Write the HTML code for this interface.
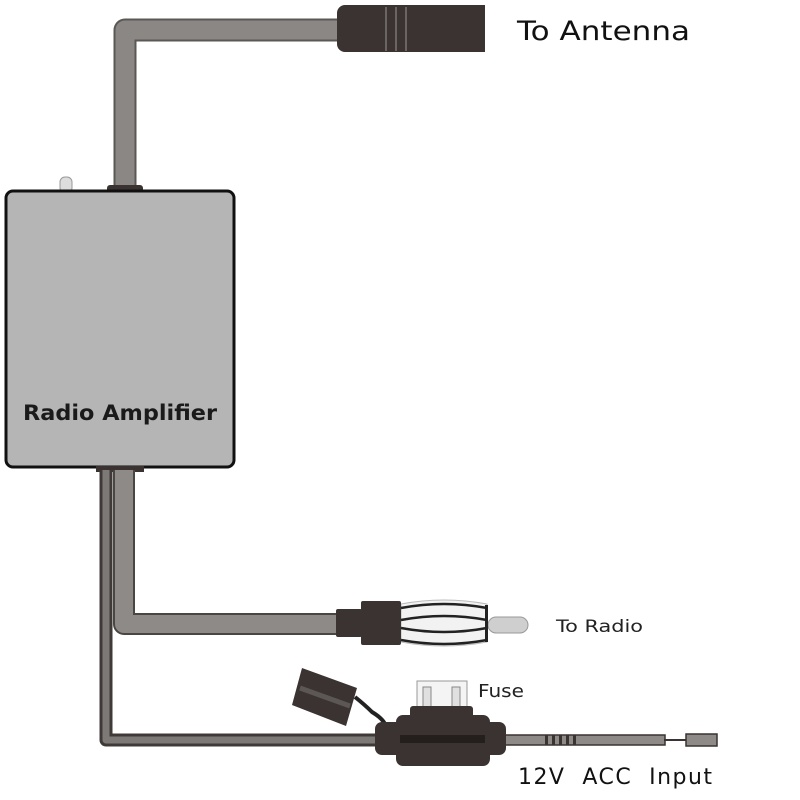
<!DOCTYPE html>
<html><head><style>body{margin:0;background:#fff}svg{display:block}</style></head>
<body>
<svg width="800" height="800" viewBox="0 0 800 800" xmlns="http://www.w3.org/2000/svg" font-family="DejaVu Sans, Liberation Sans, sans-serif">
<!-- top cable -->
<path d="M125 190 V30 H340" fill="none" stroke="#5a5755" stroke-width="23" stroke-linejoin="round"/>
<path d="M125 190 V30 H340" fill="none" stroke="#8a8784" stroke-width="19" stroke-linejoin="round"/>
<!-- antenna connector -->
<rect x="337" y="5" width="148" height="47" rx="8" fill="#3a3331"/>
<rect x="477" y="5" width="8" height="47" fill="#3a3331"/>
<rect x="385" y="7" width="2" height="44" fill="#6a6563"/>
<rect x="395" y="7" width="2" height="44" fill="#6a6563"/>
<rect x="405" y="7" width="2" height="44" fill="#6a6563"/>
<!-- led -->
<rect x="60" y="177" width="12" height="16" rx="5" fill="#ddd" stroke="#999"/>
<rect x="107" y="185" width="36" height="8" rx="3" fill="#3a3331"/>
<!-- box -->
<rect x="6" y="191" width="228" height="276" rx="7" fill="#b5b5b5" stroke="#111" stroke-width="3"/>
<text x="23" y="420" font-size="21" font-weight="bold" textLength="194" lengthAdjust="spacingAndGlyphs" fill="#1a1a1a">Radio Amplifier</text>
<!-- bottom cables -->
<rect x="96" y="466" width="48" height="6" fill="#3a3331"/>
<path d="M106 470 V740 H380" fill="none" stroke="#3f3a38" stroke-width="13" stroke-linejoin="round"/>
<path d="M106 470 V740 H380" fill="none" stroke="#7d7976" stroke-width="7" stroke-linejoin="round"/>
<path d="M124 470 V624 H340" fill="none" stroke="#4a4644" stroke-width="22" stroke-linejoin="round"/>
<path d="M124 470 V624 H340" fill="none" stroke="#8d8a87" stroke-width="18" stroke-linejoin="round"/>
<!-- radio plug -->
<rect x="488" y="617" width="40" height="16" rx="8" fill="#cfcfcf" stroke="#999"/>
<path d="M401 604 Q444 596 487 604 V642 Q444 650 401 642 Z" fill="#f2f2f2" stroke="#bbb"/>
<path d="M401 608 Q444 600 487 608 M401 620 Q444 612 487 620 M401 628 Q444 636 487 628 M401 640 Q444 648 487 640" fill="none" stroke="#222" stroke-width="2.5"/>
<rect x="485" y="605" width="3" height="37" fill="#222"/>
<rect x="336" y="609" width="26" height="28" rx="2" fill="#3a3331"/>
<rect x="361" y="601" width="40" height="44" rx="2" fill="#3a3331"/>
<!-- fuse wire -->
<rect x="505" y="735" width="160" height="10" fill="#8d8a87" stroke="#3a3331" stroke-width="1.5"/>
<rect x="545" y="735" width="3" height="10" fill="#3a3331"/><rect x="552" y="735" width="3" height="10" fill="#3a3331"/><rect x="559" y="735" width="3" height="10" fill="#3a3331"/><rect x="566" y="735" width="3" height="10" fill="#3a3331"/>
<rect x="573" y="735" width="3" height="10" fill="#3a3331"/>
<line x1="664" y1="740" x2="686" y2="740" stroke="#3a3331" stroke-width="2"/>
<rect x="686" y="734" width="31" height="12" fill="#8d8a87" stroke="#3a3331" stroke-width="1.5"/>
<!-- fuse cap -->
<path d="M355 697 Q365 705 372 712 Q382 718 385 724" fill="none" stroke="#222" stroke-width="4"/>
<polygon points="302,668 357,688 346,726 292,705" fill="#3a3331"/>
<line x1="300" y1="688" x2="350" y2="706" stroke="#5c5654" stroke-width="5"/>
<!-- fuse body -->
<rect x="417" y="681" width="50" height="28" fill="#f4f4f4" stroke="#999"/>
<rect x="423" y="687" width="8" height="20" fill="#e0e0e0" stroke="#888"/>
<rect x="452" y="687" width="8" height="20" fill="#e0e0e0" stroke="#888"/>
<rect x="410" y="706" width="63" height="12" rx="3" fill="#3a3331"/>
<rect x="375" y="722" width="32" height="33" rx="7" fill="#3a3331"/>
<rect x="478" y="722" width="28" height="33" rx="7" fill="#3a3331"/>
<rect x="396" y="715" width="94" height="51" rx="7" fill="#3a3331"/>
<rect x="400" y="735" width="85" height="8" fill="#241e1d"/>
<!-- labels -->
<text x="517" y="40" font-size="27" textLength="173" lengthAdjust="spacingAndGlyphs" fill="#111">To Antenna</text>
<text x="556" y="632" font-size="17" textLength="87" lengthAdjust="spacingAndGlyphs" fill="#222">To Radio</text>
<text x="478" y="697" font-size="18" textLength="46" lengthAdjust="spacingAndGlyphs" fill="#222">Fuse</text>
<text x="518" y="784" font-size="22" textLength="194" fill="#111" xml:space="preserve">12V  ACC  Input</text>
</svg>
</body></html>
